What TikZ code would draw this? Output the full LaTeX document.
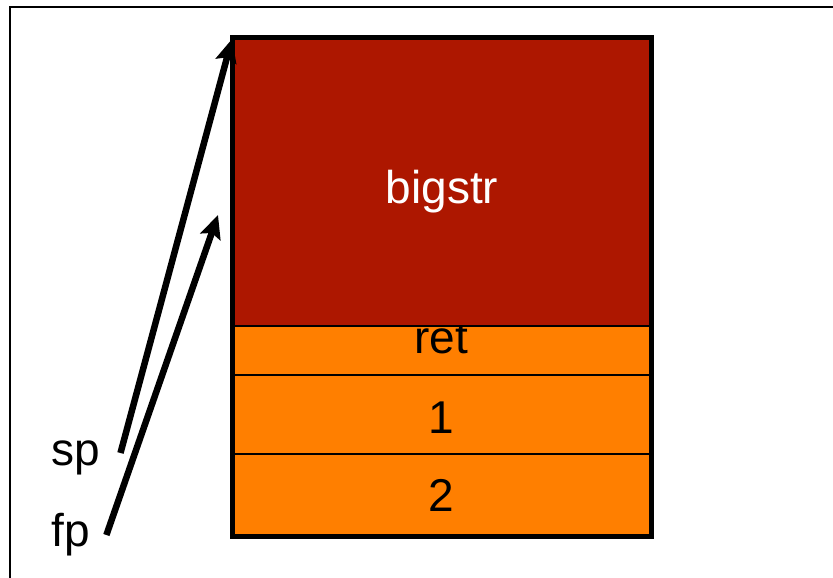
\documentclass[tikz,border=0pt]{standalone}
\usepackage{fontspec}
\setmainfont{Liberation Sans}
\usetikzlibrary{arrows.meta}
\definecolor{strred}{RGB}{173,23,0}
\definecolor{slotorange}{RGB}{255,127,0}

\begin{document}
\begin{tikzpicture}[x=1pt,y=-1pt]
        \tikzstyle{divider}=[draw=black,line width=2pt]
        \tikzstyle{word}=[font=\fontsize{46}{50}\selectfont]
        \tikzstyle{ptr}=[draw,line width=6.5pt,-{Stealth[length=23pt,width=21pt,inset=4pt]}]
        \useasboundingbox (0,0) rectangle (833,578);
        \draw[line width=2pt] (10,578) -- (10,7) -- (833,7);
       \begin{scope}
         % stack frame slots
         \fill[slotorange] (232.5,326) rectangle (651.5,536.5);
         \node [word,anchor=base] (ret) at (441,353) {ret};
         \node [word,anchor=base] (one) at (441,433) {1};
         \node [word,anchor=base] (two) at (441,511) {2};
         \fill[strred] (232.5,37.5) rectangle (651.5,326);
         \node [word,anchor=base,text=white] (bigstr) at (442,203) {bigstr};
         \path[divider] (232.5,326) -- (651.5,326);
         \path[divider] (232.5,375) -- (651.5,375);
         \path[divider] (232.5,454) -- (651.5,454);
         \draw[line width=5pt] (232.5,37.5) rectangle (651.5,536.5);
        \end{scope}
       \begin{scope}
         % pointers
         \node [word,inner xsep=20pt] (sp) at (76,458) {sp};
         \node [word,inner xsep=16pt] (fp) at (71,535) {fp};
         \coordinate (sptip) at (232,39);
         \coordinate (fptip) at (218,215);
         \path[ptr] ([yshift=5pt]sp.east) -- (sptip);
         \path[ptr] (fp.east) -- (fptip);
        \end{scope}
      \end{tikzpicture}
\end{document}
